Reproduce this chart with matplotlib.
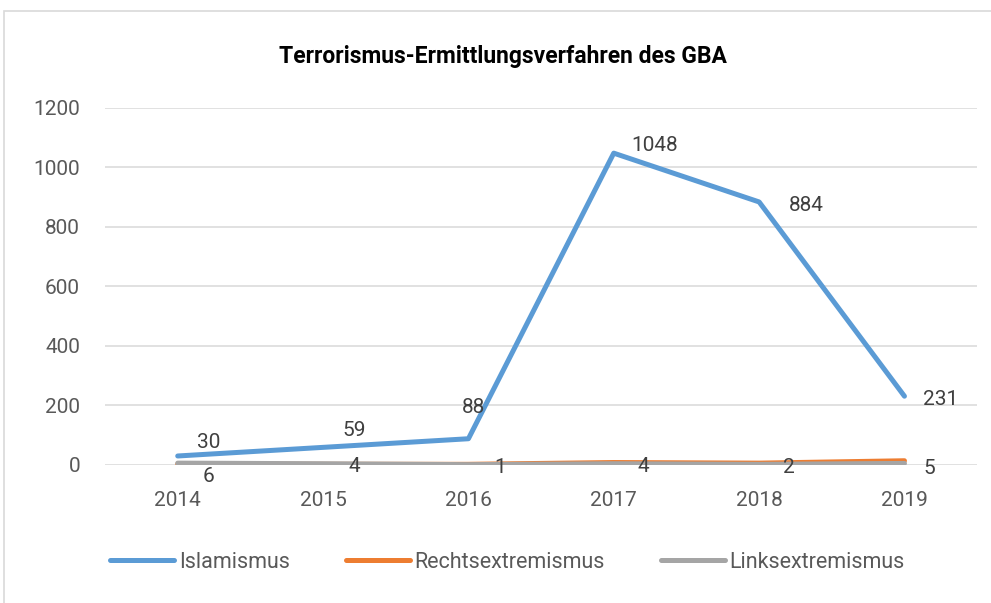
import matplotlib
matplotlib.use("Agg")
import matplotlib.pyplot as plt
from matplotlib.patches import Rectangle

# Daten
years = ["2014", "2015", "2016", "2017", "2018", "2019"]
islamismus = [30, 59, 88, 1048, 884, 231]
rechtsextremismus = [3, 2, 2, 8, 6, 14]
linksextremismus = [6, 4, 1, 4, 2, 5]
y_ticks = [0, 200, 400, 600, 800, 1000, 1200]

plt.rcParams['font.family'] = ['Roboto', 'DejaVu Sans']

fig = plt.figure(figsize=(9.91, 6.03), dpi=100)
ax = fig.add_axes([0.106, 0.229, 0.880, 0.592])

# Rahmen um das Diagramm
fig.patches.append(Rectangle((4 / 991, -0.1), 1.2, 1.1 - 11 / 603, transform=fig.transFigure,
                             fill=False, edgecolor='#D9D9D9', linewidth=1.2))

x = list(range(len(years)))
ax.plot(x, islamismus, color='#5B9BD5', linewidth=3.6, label='Islamismus', solid_capstyle='round', zorder=5)
ax.plot(x, rechtsextremismus, color='#ED7D31', linewidth=3.6, label='Rechtsextremismus', solid_capstyle='round', zorder=3)
ax.plot(x, linksextremismus, color='#A5A5A5', linewidth=3.6, label='Linksextremismus', solid_capstyle='round', zorder=4)

# Beschriftungen (Versatz in Pixel)
isl_offsets = [(31, 13), (31, 17), (5, 31), (41, 8), (47, -4), (36, -3)]
links_offsets = [(31, -13), (31, -3), (32, -3), (30, -3), (30, -3), (25, -5)]
for i, v in enumerate(islamismus):
    ax.annotate(str(v), (i, v), xytext=isl_offsets[i], textcoords='offset pixels',
                ha='center', va='center', fontsize=15, color='#404040', zorder=6)
for i, v in enumerate(linksextremismus):
    ax.annotate(str(v), (i, v), xytext=links_offsets[i], textcoords='offset pixels',
                ha='center', va='center', fontsize=15, color='#404040', zorder=6)

ax.set_xlim(-0.5, len(years) - 0.5)
ax.set_ylim(0, 1200)
ax.set_yticks(y_ticks)
ax.set_xticks(x)
ax.set_xticklabels(years)
ax.tick_params(axis='both', length=0, labelsize=15, labelcolor='#595959')
ax.tick_params(axis='y', pad=18)
ax.tick_params(axis='x', pad=19)
ax.grid(axis='y', color='#D9D9D9', linewidth=1.1)
ax.set_axisbelow(True)
for s in ax.spines.values():
    s.set_visible(False)

fig.text(0.508, 1 - 57 / 603, "Terrorismus-Ermittlungsverfahren des GBA", ha='center', va='center',
         fontsize=16.5, fontweight='bold', color='#000000')

fig.legend(loc='center', bbox_to_anchor=(0.512, 1 - 562 / 603), ncol=3, frameon=False,
           fontsize=15.5, handlelength=3.0, handletextpad=0.2, columnspacing=2.6,
           labelcolor='#595959')

fig.savefig("out.png", dpi=100)
